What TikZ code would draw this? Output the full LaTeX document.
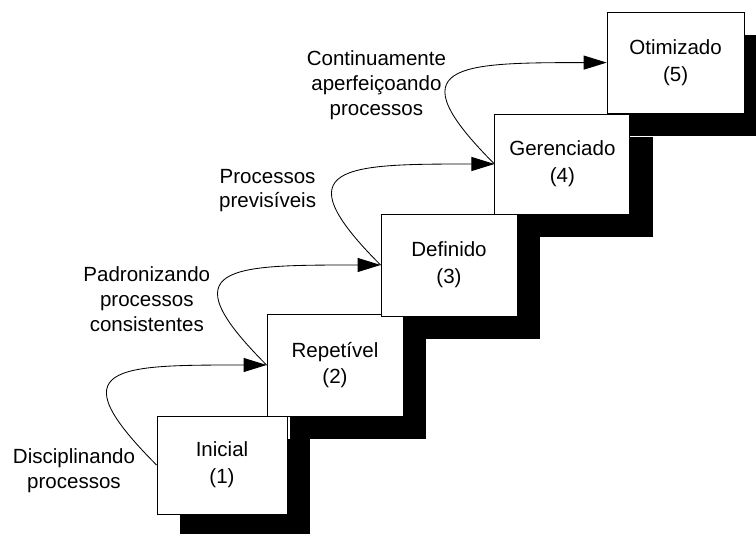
\documentclass[tikz,border=0pt]{standalone}
\usepackage{fontspec}
\setmainfont{Liberation Sans}
\usepackage{xcolor}
\usetikzlibrary{arrows.meta,shadows}

\begin{document}
\begin{tikzpicture}[
		nivel/.style={draw=black, fill=white, line width=0.6pt, align=center, inner sep=0pt,
			minimum width=3.4cm, minimum height=2.55cm, font=\fontsize{14.6}{19}\selectfont,
			drop shadow={fill=black, opacity=1, shadow xshift=0.57cm, shadow yshift=-0.57cm}},
		rotulo/.style={align=center, inner sep=0pt, font=\fontsize{14.6}{17.6}\selectfont},
		passo/.style={-{Triangle[length=5.75mm, width=3.5mm]}, line width=0.6pt}]
			\useasboundingbox (0,0) rectangle (18.9,13.325);

			% Steps of the staircase
			\node[nivel, minimum width=3.25cm, minimum height=2.45cm] (inicial) at (5.55,1.70) {Inicial\\(1)};
			\node[nivel] (repetivel) at (8.375,4.20) {Repetível\\(2)};
			\node[nivel] (definido) at (11.225,6.70) {Definido\\(3)};
			\node[nivel, minimum width=3.375cm, minimum height=2.5cm] (gerenciado) at (14.06,9.225) {Gerenciado\\(4)};
			\node[nivel, minimum width=3.425cm, minimum height=2.525cm] (otimizado) at (16.89,11.76) {Otimizado\\(5)};

			% Labels of the transitions
			\node[rotulo] (disciplinando) at (1.85,1.56) {Disciplinando\\processos};
			\node[rotulo] (padronizando) at (3.67,5.85) {Padronizando\\processos\\consistentes};
			\node[rotulo] (previsiveis) at (6.69,8.56) {Processos\\previsíveis};
			\node[rotulo] (continuamente) at (9.41,11.19) {Continuamente\\aperfeiçoando\\processos};

			% Curved arrows between the steps
			\foreach \a/\b in {inicial/repetivel, repetivel/definido, definido/gerenciado, gerenciado/otimizado}
			\draw[passo] (\a.west) .. controls +(-2.5,2.5) and +(-3.75,0) .. (\b.west);
		\end{tikzpicture}
\end{document}
